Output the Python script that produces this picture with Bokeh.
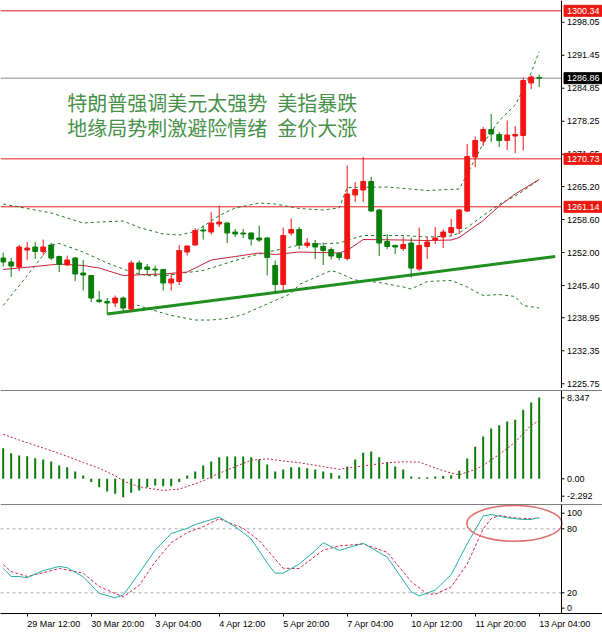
from bokeh.plotting import figure
from bokeh.models import Range1d, FixedTicker, Span, Label, LinearAxis
from bokeh.layouts import column
from bokeh.embed import file_html
from bokeh.resources import INLINE
from bokeh.core.properties import value

# ---------------- data (XAUUSD H4) ----------------
opens = [1250.9, 1250.1, 1249.1, 1252.5, 1253.1, 1252.2, 1253.5, 1251.2, 1249.5, 1250.9,
         1247.9, 1247.4, 1242.5, 1242.2, 1241.9, 1242.9, 1240.7, 1249.9, 1249.1, 1248.7,
         1248.6, 1245.9, 1246.2, 1252.1, 1253.5, 1256.5, 1256.1, 1257.7, 1257.9, 1256.1,
         1255.9, 1255.9, 1254.9, 1254.9, 1249.4, 1245.6, 1255.9, 1256.6, 1253.4, 1253.8,
         1253.2, 1252.6, 1251.8, 1250.8, 1263.5, 1264.5, 1266.2, 1260.5, 1254.2, 1253.4,
         1252.8, 1253.9, 1248.7, 1253.2, 1254.5, 1255.1, 1256.0, 1256.8, 1260.3, 1271.1,
         1274.3, 1276.6, 1275.6, 1274.4, 1275.3, 1275.4, 1285.9, 1287.0]
highs = [1252.0, 1250.9, 1253.5, 1254.1, 1254.1, 1254.6, 1253.9, 1251.4, 1251.4, 1251.1,
         1250.5, 1247.5, 1244.3, 1242.9, 1243.4, 1243.2, 1250.4, 1250.4, 1249.7, 1249.4,
         1248.7, 1247.9, 1253.5, 1253.4, 1256.9, 1257.4, 1260.1, 1261.4, 1258.0, 1256.7,
         1256.7, 1256.0, 1257.4, 1255.1, 1250.4, 1257.0, 1258.8, 1257.1, 1254.9, 1254.5,
         1254.0, 1253.0, 1252.1, 1269.4, 1266.1, 1271.1, 1267.1, 1260.7, 1255.7, 1253.6,
         1255.2, 1255.0, 1257.0, 1255.1, 1257.1, 1256.6, 1258.7, 1260.7, 1273.7, 1275.2,
         1277.1, 1279.7, 1276.1, 1278.4, 1277.3, 1287.0, 1287.5, 1287.6]
lows = [1249.2, 1247.1, 1248.3, 1250.5, 1250.7, 1251.4, 1250.5, 1248.1, 1249.4, 1246.3,
        1244.4, 1242.1, 1241.9, 1239.7, 1241.1, 1240.1, 1240.2, 1247.6, 1247.4, 1247.4,
        1244.4, 1244.4, 1245.5, 1251.4, 1253.4, 1254.6, 1255.6, 1257.1, 1253.9, 1255.1,
        1254.9, 1253.4, 1254.1, 1247.4, 1243.9, 1244.4, 1255.4, 1252.7, 1252.9, 1250.7,
        1249.5, 1250.6, 1250.4, 1250.4, 1262.1, 1262.1, 1260.2, 1251.3, 1252.7, 1251.7,
        1252.3, 1247.0, 1248.3, 1250.7, 1253.7, 1252.9, 1255.3, 1255.7, 1260.1, 1269.1,
        1273.3, 1274.1, 1273.1, 1272.5, 1271.9, 1272.4, 1284.7, 1285.1]
closes = [1250.1, 1249.3, 1253.1, 1252.9, 1252.2, 1253.1, 1250.9, 1249.6, 1250.5, 1247.7,
          1247.5, 1242.9, 1242.2, 1241.9, 1242.9, 1240.9, 1249.9, 1248.7, 1248.6, 1248.5,
          1245.9, 1246.7, 1252.4, 1253.3, 1256.4, 1256.3, 1257.9, 1258.1, 1255.9, 1255.7,
          1255.7, 1254.7, 1254.5, 1251.0, 1245.6, 1255.4, 1256.6, 1253.5, 1253.9, 1253.1,
          1252.4, 1251.3, 1251.0, 1263.7, 1264.6, 1266.2, 1260.3, 1253.9, 1253.2, 1253.1,
          1253.6, 1248.9, 1253.4, 1254.1, 1254.9, 1256.1, 1257.0, 1260.5, 1271.2, 1274.4,
          1276.6, 1275.7, 1274.4, 1275.5, 1275.6, 1286.4, 1287.1, 1286.86]

ma_idx = [0, 4, 7, 10, 12, 15, 18, 20, 23, 26, 29, 32, 34, 37, 42, 43, 45, 50, 53, 56, 57, 60, 62, 64, 67]
ma_val = [1248.6, 1249.2, 1249.7, 1249.4, 1248.9, 1247.4, 1247.6, 1247.7, 1248.1, 1250.5, 1251.2,
          1251.9, 1251.6, 1252.1, 1251.9, 1252.4, 1254.6, 1254.5, 1254.4, 1254.5, 1255.0, 1258.4,
          1261.3, 1263.7, 1266.6]

bb_mid_idx = [0, 3, 6, 7, 10, 13, 16, 18, 20, 22, 25, 29, 32, 37, 42, 43, 45, 50, 53, 56, 57, 58,
              60, 62, 64, 66, 67]
bb_mid_val = [1241.4, 1247.4, 1253.5, 1253.8, 1252.1, 1249.9, 1248.1, 1247.4, 1247.3, 1247.8,
              1248.4, 1250.4, 1251.7, 1253.5, 1253.9, 1254.4, 1255.4, 1255.4, 1255.1, 1255.3,
              1255.9, 1257.0, 1259.4, 1261.6, 1263.3, 1265.4, 1266.6]

bb_up_idx = [0, 3, 6, 10, 12, 15, 17, 20, 22, 24, 25, 27, 29, 32, 34, 37, 40, 42, 43, 48, 53, 57,
             58, 60, 62, 64, 65, 66, 67]
bb_up_val = [1261.7, 1260.8, 1259.9, 1257.9, 1258.1, 1258.3, 1257.0, 1255.7, 1255.5, 1256.2,
             1257.2, 1259.4, 1260.9, 1261.9, 1261.7, 1260.8, 1260.5, 1260.9, 1265.0, 1265.1,
             1264.4, 1264.7, 1267.7, 1273.8, 1278.4, 1281.5, 1284.6, 1288.0, 1292.2]

bb_lo_idx = [16, 18, 21, 24, 26, 28, 30, 33, 36, 37, 40, 41, 42, 44, 47, 50, 51, 53, 56, 58, 60,
             62, 64, 65, 67]
bb_lo_val = [1241.9, 1240.8, 1239.4, 1238.5, 1238.5, 1238.8, 1239.6, 1241.7, 1243.8, 1245.6,
             1247.7, 1248.4, 1247.9, 1246.5, 1246.0, 1245.1, 1244.7, 1246.2, 1246.4, 1245.1,
             1243.4, 1243.6, 1243.2, 1241.4, 1240.9]

trend_idx = [13, 69]
trend_price = [1239.7, 1251.2]

red_levels = [1300.34, 1270.73, 1261.14]
last_price = 1286.86
price_ticks = [1225.75, 1232.35, 1238.95, 1245.40, 1252.00, 1258.60, 1265.20, 1271.65,
               1278.25, 1284.85, 1291.45, 1298.05]

macd_hist = [2.96, 2.48, 2.25, 2.19, 1.99, 1.87, 1.68, 1.29, 1.12, 0.71, 0.32,
             -0.32, -0.81, -1.23, -1.45, -1.78, -1.35, -1.13, -0.81, -0.65, -0.72, -0.72, -0.32,
             0.32, 0.71, 1.29, 1.68, 2.09, 2.16, 2.16, 2.16, 2.09, 1.87, 1.38, 0.71, 0.90, 1.12, 1.12,
             1.03, 0.90, 0.71, 0.55, 0.32, 1.19, 1.87, 2.51, 2.64, 2.09, 1.61, 1.19, 0.90,
             0.22, 0.16, 0.16, 0.22, 0.26, 0.35, 0.77, 1.96, 3.09, 4.09, 4.86, 5.18, 5.54, 5.71,
             6.67, 7.38, 7.86]
macd_sig_idx = [0, 2, 5, 7, 10, 12, 14, 15, 17, 20, 22, 25, 26, 29, 31, 33, 35, 37, 40, 42, 44,
                46, 48, 50, 52, 54, 56, 57, 59, 60, 62, 64, 66, 67]
macd_sig_val = [4.30, 3.75, 2.98, 2.45, 1.58, 1.02, 0.30, -0.20, -0.78, -1.12, -1.00, -0.20, 0.20,
                1.18, 1.80, 1.93, 1.72, 1.56, 1.18, 0.92, 1.14, 1.35, 1.55, 1.65, 1.62, 1.05, 0.55,
                0.39, 0.90, 1.30, 2.35, 3.55, 5.20, 5.60]
macd_ticks = [-1.68, 0.0, 7.83]
macd_tick_labels = ["-2.292", "0.00", "8.347"]

stoch_k_idx = [0, 1, 2, 3, 5, 7, 8, 10, 12, 14, 15, 16, 19, 21, 23, 24, 27, 29, 31, 33, 34, 35,
               37, 39, 40, 42, 45, 48, 51, 52, 54, 56, 58, 60, 61, 63, 65, 66, 67]
stoch_k_val = [43.0, 35.3, 35.3, 34.1, 40.9, 44.7, 43.5, 35.0, 19.5, 15.3, 18.0, 28.0, 60.0, 75.5,
               80.5, 84.0, 91.0, 82.0, 70.5, 48.0, 38.4, 38.4, 47.0, 59.5, 67.0, 59.7, 66.5, 53.4,
               21.0, 17.0, 22.5, 37.0, 66.0, 92.0, 93.4, 90.3, 88.7, 88.7, 90.5]
stoch_d_idx = [0, 1, 3, 5, 7, 10, 12, 15, 17, 19, 21, 23, 25, 27, 30, 32, 35, 37, 40, 42, 45, 48,
               51, 53, 54, 56, 58, 60, 61, 62, 64, 66, 67]
stoch_d_val = [46.5, 40.0, 35.3, 38.8, 42.8, 38.5, 26.0, 16.0, 27.0, 49.0, 67.0, 76.5, 82.0, 89.4,
               80.5, 69.0, 43.0, 42.8, 60.0, 64.0, 65.8, 58.0, 30.5, 19.0, 18.7, 25.5, 47.0, 80.0,
               89.5, 92.5, 90.2, 89.4, 90.3]
stoch_levels = [80, 20]
stoch_ticks = [5.6, 20.0, 80.0, 94.6]
stoch_tick_labels = ["0", "20", "80", "100"]
mark_center = [63.9, 85.1]
mark_size = [11.9, 33.5]

time_tick_idx = [3, 11, 19, 27, 35, 43, 51, 59, 67]
time_tick_labels = ["29 Mar 12:00", "30 Mar 20:00", "3 Apr 04:00", "4 Apr 12:00", "5 Apr 20:00",
                    "7 Apr 04:00", "10 Apr 12:00", "11 Apr 20:00", "13 Apr 04:00"]

headline = ["特朗普强调美元太强势\u2002美指暴跌", "地缘局势刺激避险情绪\u2002金价大涨"]
headline_pos = [(8.0, 1282.1), (8.0, 1277.0)]

# ---------------- styles ----------------
UP = "#f01414"
DN = "#0a7d0a"
LVL_RED = "#e01a1a"
TAG_RED = "#ea1a10"
MA_RED = "#c8203a"
BB_GREEN = "#237a23"
TREND = "#1f8f1f"
SIG_RED = "#c0243c"
K_TEAL = "#26b0a8"
D_RED = "#cc2a4a"
FONT = "Liberation Sans"
FS_PX = 9
FS = f"{FS_PX}px"
# advance widths (em) of Liberation Sans, used to left-align the time labels at their ticks
CHAR_EM = {" ": 0.278, ":": 0.278, "M": 0.833, "A": 0.667, "a": 0.556, "p": 0.556, "r": 0.333}

W = 602                       # total width (price-scale strip included)
PX = 8.0                      # pixels per candle
X0 = -0.3375                  # candle index at the left edge
X1 = X0 + 561 / PX            # price-scale line
XE = X0 + W / PX              # right edge of the page
xr = Range1d(X0, XE)


def make_fig(h, yr, top, bottom, xloc):
    p = figure(width=W, height=h, x_range=xr, y_range=yr, output_backend="svg",
               toolbar_location=None, y_axis_location=None, x_axis_location=xloc,
               min_border_left=0, min_border_right=0, min_border_top=top,
               min_border_bottom=bottom)
    p.outline_line_color = None
    p.grid.visible = False
    return p


def price_scale(p, ticks, labels, tag_h=None, tags=()):
    # vertical scale line, tick marks and labels in the strip right of the chart area
    p.add_layout(Span(location=X1, dimension="height", line_color="black", line_width=1))
    p.segment(x0=[X1] * len(ticks), x1=[X1 + 3 / PX] * len(ticks), y0=ticks, y1=ticks,
              line_color="black", line_width=1)
    p.text(x=[X1 + 5.5 / PX] * len(ticks), y=ticks, text=labels, text_font=value(FONT),
           text_font_size=value(FS), text_color="black", text_align="left",
           text_baseline="middle")
    for yv, txt, bg in tags:
        p.quad(left=[X1 + 2.5 / PX], right=[XE], bottom=[yv - tag_h / 2], top=[yv + tag_h / 2],
               fill_color=bg, line_color=bg)
        p.text(x=[X1 + 5.5 / PX], y=[yv], text=[txt], text_font=value(FONT),
               text_font_size=value(FS), text_color="white", text_align="left",
               text_baseline="middle")


# ---------------- main price panel ----------------
main_yr = Range1d(1224.8, 1302.4)
main = make_fig(388, main_yr, 0, 0, None)

for lv in red_levels:
    main.segment(x0=[X0], x1=[X1], y0=[lv], y1=[lv], line_color=LVL_RED, line_width=1)
main.segment(x0=[X0], x1=[X1], y0=[last_price], y1=[last_price], line_color="#8c8c8c",
             line_width=1)

main.line(bb_up_idx, bb_up_val, line_color=BB_GREEN, line_dash="3 3", line_width=1)
main.line(bb_lo_idx, bb_lo_val, line_color=BB_GREEN, line_dash="3 3", line_width=1)
main.line(bb_mid_idx, bb_mid_val, line_color=BB_GREEN, line_dash="3 3", line_width=1)
main.line(ma_idx, ma_val, line_color=MA_RED, line_width=1)
main.line(trend_idx, trend_price, line_color=TREND, line_width=3)

idx = list(range(len(closes)))
cols = [UP if c >= o else DN for o, c in zip(opens, closes)]
tops = [max(o, c) for o, c in zip(opens, closes)]
bots = [min(o, c) for o, c in zip(opens, closes)]
main.segment(x0=idx, y0=lows, x1=idx, y1=highs, line_color=cols, line_width=1)
main.vbar(x=idx, top=tops, bottom=bots, width=0.6, fill_color=cols, line_color=cols)

for (hx, hy), txt in zip(headline_pos, headline):
    main.add_layout(Label(x=hx, y=hy, text=txt, text_font="Noto Sans CJK SC",
                          text_font_size="20px", text_color="#47914a",
                          text_align="left", text_baseline="middle"))

main_tags = [(lv, f"{lv:.2f}", TAG_RED) for lv in red_levels] + \
            [(last_price, f"{last_price:.2f}", "black")]
price_scale(main, price_ticks, [f"{t:.2f}" for t in price_ticks], tag_h=2.2, tags=main_tags)
main.add_layout(Span(location=main_yr.start, dimension="width", line_color="black", line_width=1))

# ---------------- MACD panel ----------------
macd_yr = Range1d(-2.292, 8.54)
macd = make_fig(114, macd_yr, 2, 0, None)
macd.vbar(x=idx, top=macd_hist, bottom=0, width=0.25, fill_color=DN, line_color=None)
macd.line(macd_sig_idx, macd_sig_val, line_color=SIG_RED, line_dash="2 2", line_width=1)
price_scale(macd, macd_ticks, macd_tick_labels)
macd.add_layout(Span(location=macd_yr.end, dimension="width", line_color="black", line_width=1))
macd.add_layout(Span(location=macd_yr.start, dimension="width", line_color="black", line_width=1))

# ---------------- Stochastic panel ----------------
st_yr = Range1d(0.6, 102.8)
st = make_fig(130, st_yr, 2, 19, "below")
for lv in stoch_levels:
    st.segment(x0=[X0], x1=[X1], y0=[lv], y1=[lv], line_color="#a8a8a8",
               line_dash="3 3", line_width=1)
st.line(stoch_d_idx, stoch_d_val, line_color=D_RED, line_dash="3 2", line_width=1)
st.line(stoch_k_idx, stoch_k_val, line_color=K_TEAL, line_width=1)
st.ellipse(x=[mark_center[0]], y=[mark_center[1]], width=[mark_size[0]], height=[mark_size[1]],
           fill_color=None, line_color="#e07070", line_width=1.5)
price_scale(st, stoch_ticks, stoch_tick_labels)
st.add_layout(Span(location=st_yr.end, dimension="width", line_color="black", line_width=1))

# time axis: tick marks on the first axis, labels on a second one below it
xa = st.xaxis[0]
xa.ticker = FixedTicker(ticks=time_tick_idx)
xa.axis_line_color = "black"
xa.major_tick_out = 3
xa.major_tick_in = 0
xa.minor_tick_out = 0
xa.minor_tick_in = 0
xa.major_label_standoff = 0
xa.major_label_text_font_size = "0px"
xa.major_label_overrides = {t: "" for t in time_tick_idx}


def half_width(s):
    return sum(CHAR_EM.get(c, 0.556) for c in s) * FS_PX / 2 / PX


label_pos = [round(t + half_width(s), 4) for t, s in zip(time_tick_idx, time_tick_labels)]
xl = LinearAxis(ticker=FixedTicker(ticks=label_pos))
xl.major_label_overrides = dict(zip(label_pos, time_tick_labels))
xl.axis_line_color = None
xl.major_tick_line_color = None
xl.minor_tick_line_color = None
xl.major_tick_out = 0
xl.major_tick_in = 0
xl.minor_tick_out = 0
xl.minor_tick_in = 0
xl.major_label_standoff = 2
xl.major_label_text_font = FONT
xl.major_label_text_font_size = FS
xl.major_label_text_color = "black"
st.add_layout(xl, "below")

layout = column(main, macd, st)
open("out.html", "w").write(file_html(layout, INLINE))
